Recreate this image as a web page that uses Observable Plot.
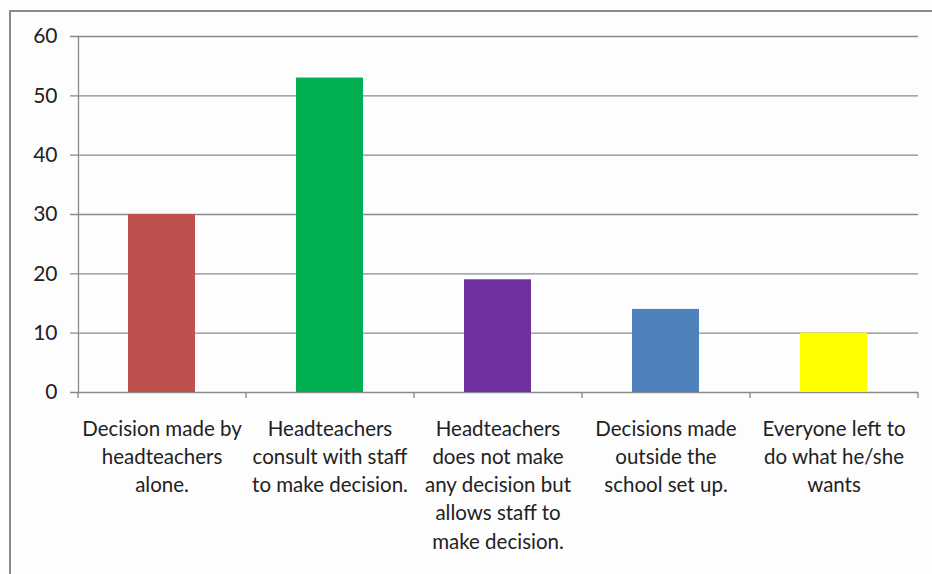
<!DOCTYPE html>
<html>
<head>
<meta charset="utf-8">
<script src="https://cdn.jsdelivr.net/npm/d3@7"></script>
<script src="https://cdn.jsdelivr.net/npm/@observablehq/plot@0.6"></script>
<style>
  html, body { margin: 0; padding: 0; background: #fdfdfd; }
  #wrap { position: relative; width: 932px; height: 574px; overflow: hidden; }
  #border { position: absolute; left: 9px; top: 10px; width: 940px; height: 600px;
            border-left: 2px solid #8a8a8a; border-top: 2px solid #8a8a8a; box-sizing: border-box; }
  #chart { position: absolute; left: 0; top: 0; }
</style>
</head>
<body>
<div id="wrap"><div id="border"></div><div id="chart"></div></div>
<script>
// Who makes decisions in the school
const categories = [
  "Decision made by headteachers alone.",
  "Headteachers consult with staff to make decision.",
  "Headteachers does not make any decision but allows staff to make decision.",
  "Decisions made outside the school set up.",
  "Everyone left to do what he/she wants"
];
const labels = [
  "Decision made by\nheadteachers\nalone.",
  "Headteachers\nconsult with staff\nto make decision.",
  "Headteachers\ndoes not make\nany decision but\nallows staff to\nmake decision.",
  "Decisions made\noutside the\nschool set up.",
  "Everyone left to\ndo what he/she\nwants"
];
const values = [30, 53, 19, 14, 10];
const colors = ["#C0504D", "#00B050", "#7030A0", "#4F81BD", "#FFFF00"];
const yTicks = [0, 10, 20, 30, 40, 50, 60];

const data = categories.map((c, i) => ({category: c, label: labels[i], value: values[i], color: colors[i]}));

const width = 932, height = 574;
const marginLeft = 78, marginRight = 14, marginTop = 36, marginBottom = 182;
const step = (width - marginLeft - marginRight) / categories.length;
const font = "Lato, 'Open Sans', sans-serif";
const gray = "#8a8a8a";

const chart = Plot.plot({
  width, height, marginLeft, marginRight, marginTop, marginBottom,
  style: {background: "transparent", fontFamily: font},
  x: {domain: categories, paddingInner: 0.6, paddingOuter: 0.3, axis: null},
  y: {domain: [0, 60], ticks: yTicks, axis: null},
  marks: [
    Plot.gridY(yTicks, {stroke: gray, strokeOpacity: 1, strokeWidth: 1.3, insetLeft: -8}),
    Plot.frame({anchor: "left", stroke: gray, strokeWidth: 1.3}),
    Plot.barY(data, {x: "category", y: "value", fill: "color"}),
    // category boundary ticks below the baseline
    Plot.ruleX(categories, {x: d => d, y1: 0, y2: 0, dx: -step / 2, insetBottom: -6, stroke: gray, strokeWidth: 1.3}),
    Plot.ruleX(categories.slice(-1), {x: d => d, y1: 0, y2: 0, dx: step / 2, insetBottom: -6, stroke: gray, strokeWidth: 1.3}),
    Plot.axisY(yTicks, {label: null, tickSize: 0, tickPadding: 21, fontSize: 21, fill: "#222", fontFamily: font}),
    Plot.text(data, {x: "category", text: "label", frameAnchor: "bottom", lineAnchor: "top",
                     dy: 23, lineHeight: 1.38, fontSize: 20.5, fill: "#222", fontFamily: font})
  ]
});
document.getElementById("chart").appendChild(chart);
</script>
</body>
</html>
